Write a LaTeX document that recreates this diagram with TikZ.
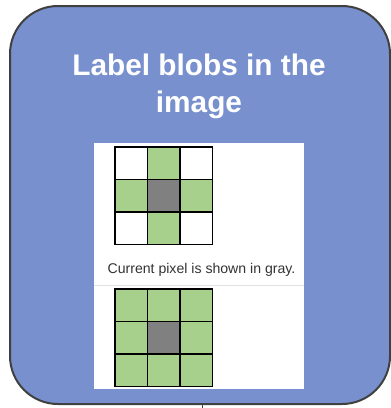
\documentclass[tikz,border=0pt]{standalone}
\usepackage{fontspec}
\setmainfont{Liberation Sans}
\definecolor{boxblue}{RGB}{120,144,206}
\definecolor{boxedge}{RGB}{64,64,64}
\definecolor{cellgreen}{RGB}{168,208,141}
\definecolor{cellgray}{RGB}{128,128,128}
\definecolor{captext}{RGB}{51,51,51}
\definecolor{sepline}{RGB}{225,225,225}
\tikzset{
  card/.style={fill=boxblue, draw=boxedge, line width=2pt, rounded corners=48pt},
  titletext/.style={text=white, font=\bfseries\fontsize{29.8}{37}\selectfont, align=center},
  caption/.style={text=captext, font=\fontsize{14.1}{16}\selectfont},
  gridline/.style={draw=black, line width=1.8pt, line cap=rect},
}
\begin{document}
\begin{tikzpicture}[x=1pt,y=-1pt]
\useasboundingbox (0,0) rectangle (391,408);
% card
\draw[card] (10,6) rectangle (390,404);
% stub below card
\coordinate (stubtop) at (202,404);
\coordinate (stubend) at (202,408);
\draw[boxedge, line width=1pt] (stubtop) -- (stubend);
% title
\node[titletext] (title) at (199,86) {Label blobs in the\\image};
% white panel
\fill[white] (94,143) rectangle (304,389);
\draw[sepline, line width=1pt] (94,285) -- (304,285);
\node[caption] (cap) at (201.5,270) {Current pixel is shown in gray.};
% grid 1 (4-neighbourhood)
\begin{scope}[shift={(115,147)}]
  \def\c{32.5}
  \fill[cellgreen] (\c,0) rectangle (2*\c,3*\c);
  \fill[cellgreen] (0,\c) rectangle (3*\c,2*\c);
  \fill[cellgray] (\c,\c) rectangle (2*\c,2*\c);
  \foreach \i in {0,1,2,3} {
    \draw[gridline] (\i*\c,0) -- (\i*\c,3*\c);
    \draw[gridline] (0,\i*\c) -- (3*\c,\i*\c);
  }
\end{scope}
% grid 2 (8-neighbourhood)
\begin{scope}[shift={(115,289)}]
  \def\c{32.5}
  \fill[cellgreen] (0,0) rectangle (3*\c,3*\c);
  \fill[cellgray] (\c,\c) rectangle (2*\c,2*\c);
  \foreach \i in {0,1,2,3} {
    \draw[gridline] (\i*\c,0) -- (\i*\c,3*\c);
    \draw[gridline] (0,\i*\c) -- (3*\c,\i*\c);
  }
\end{scope}
\end{tikzpicture}
\end{document}
